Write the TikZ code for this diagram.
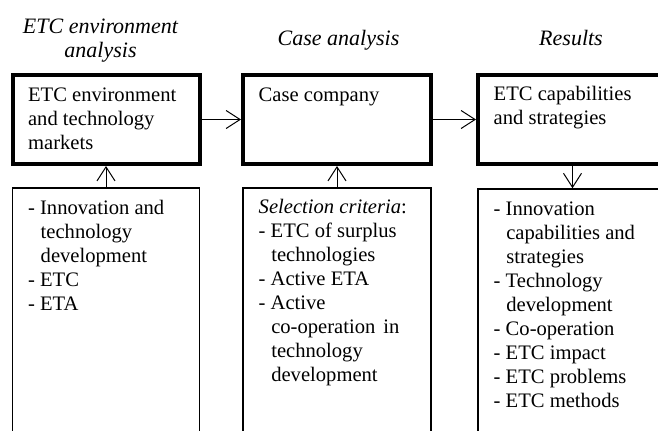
\documentclass[tikz,border=0pt]{standalone}
\usepackage{fontspec}
\setmainfont{Liberation Serif}
\usetikzlibrary{arrows.meta,fit}
% hanging indent for continued list lines
\newcommand\contind{\hspace*{6.3pt}}
\begin{document}
\begin{tikzpicture}[x=0.5pt,y=-0.5pt,
  mainbox/.style={draw, line width=2pt, inner sep=0pt},
  listbox/.style={draw, line width=0.8pt, inner sep=0pt},
  txt/.style={anchor=base west, inner sep=0pt, font=\fontsize{10.3}{12}\selectfont},
  head/.style={anchor=base, inner sep=0pt, font=\fontsize{11}{12}\selectfont\itshape},
  conn/.style={line width=0.5pt, -{Straight Barb[length=7pt,width=9pt]}}
]
\useasboundingbox (0,0) rectangle (658,430);
\clip (0,0) rectangle (658,430);

% column headings
\node[head] (h1) at (100.5,33) {\begin{tabular}[t]{@{}c@{}}ETC environment\\analysis\end{tabular}};
\node[head] (h2) at (338.5,45) {Case analysis};
\node[head] (h3) at (571,45) {Results};

% corner points of the boxes
\coordinate (b1a) at (12.5,75);  \coordinate (b1b) at (199.5,164);
\coordinate (b2a) at (243,75);   \coordinate (b2b) at (431,164);
\coordinate (b3a) at (478,75);   \coordinate (b3b) at (667,164);
\coordinate (l1a) at (12.5,188); \coordinate (l1b) at (199.5,460);
\coordinate (l2a) at (243,188);  \coordinate (l2b) at (431,460);
\coordinate (l3a) at (478,189);  \coordinate (l3b) at (667,460);

% main stages
\node[mainbox, fit=(b1a)(b1b)] (b1) {};
\node[mainbox, fit=(b2a)(b2b)] (b2) {};
\node[mainbox, fit=(b3a)(b3b)] (b3) {};

\node[txt] (t1) at (27.7,101) {\begin{tabular}[t]{@{}l@{}}ETC environment\\and technology\\markets\end{tabular}};
\node[txt] (t2) at (258.3,101) {Case company};
\node[txt] (t3) at (493.3,100) {\begin{tabular}[t]{@{}l@{}}ETC capabilities\\and strategies\end{tabular}};

% detail lists
\node[listbox, fit=(l1a)(l1b)] (l1) {};
\node[listbox, fit=(l2a)(l2b)] (l2) {};
\node[listbox, fit=(l3a)(l3b)] (l3) {};

\node[txt] (u1) at (27.7,214) {\begin{tabular}[t]{@{}l@{}}
- Innovation and\\
\contind technology\\
\contind development\\
- ETC\\
- ETA\end{tabular}};

\node[txt] (u2) at (258.3,213) {\begin{tabular}[t]{@{}l@{}}
\textit{Selection criteria}:\\
- ETC of surplus\\
\contind technologies\\
- Active ETA\\
- Active\\
\contind \makebox[64pt][s]{co-operation in}\\
\contind technology\\
\contind development\end{tabular}};

\node[txt] (u3) at (493.3,215) {\begin{tabular}[t]{@{}l@{}}
- Innovation\\
\contind capabilities and\\
\contind strategies\\
- Technology\\
\contind development\\
- Co-operation\\
- ETC impact\\
- ETC problems\\
- ETC methods\end{tabular}};

% connectors
\draw[conn] (b1.east) -- (b2.west);
\draw[conn] (b2.east) -- (b3.west);
\draw[conn] (l1.north) -- (b1.south);
\draw[conn] (l2.north) -- (b2.south);
\draw[conn] (b3.south) -- (l3.north);
\end{tikzpicture}
\end{document}
